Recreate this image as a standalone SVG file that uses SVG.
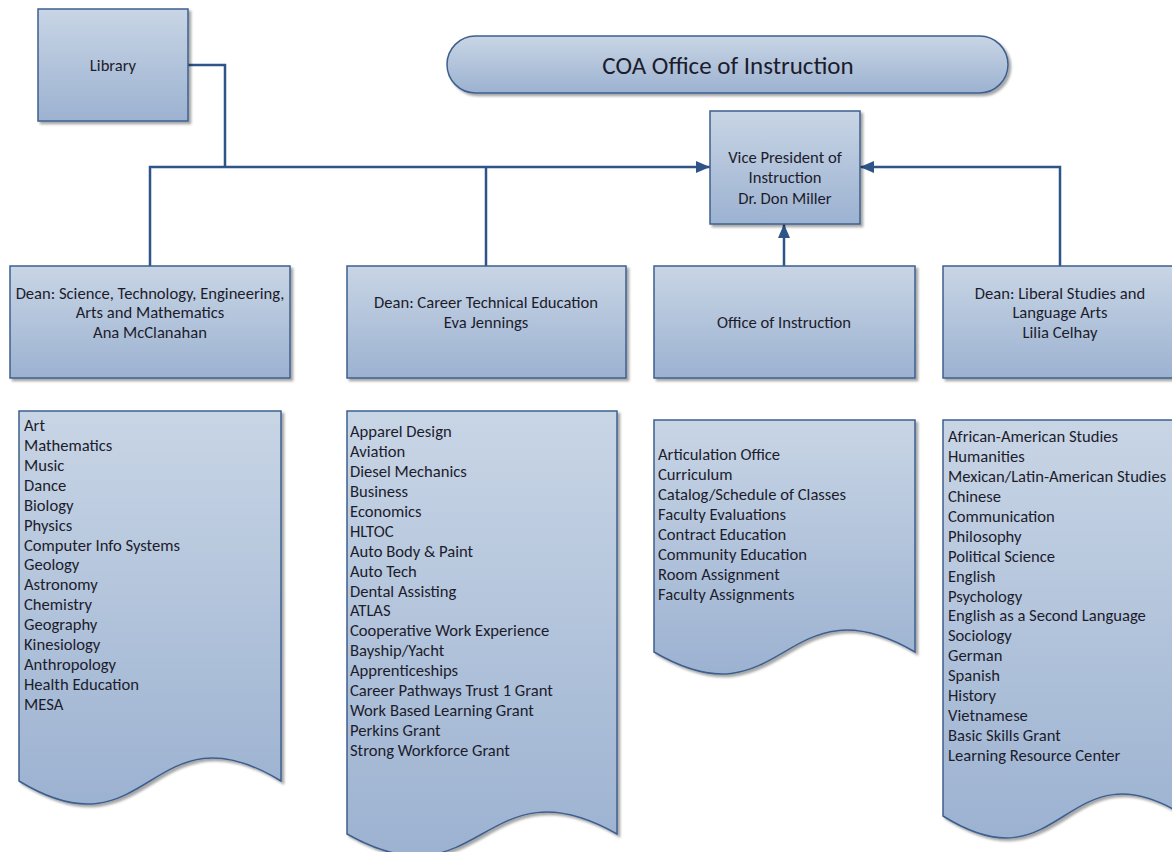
<svg xmlns="http://www.w3.org/2000/svg" width="1172" height="852" viewBox="0 0 1172 852">
<style>
.box{fill:url(#g);stroke:#3d5f8e;stroke-width:1.5;filter:url(#sh)}
.t{font-family:Carlito,Lato,"Liberation Sans",sans-serif;font-size:16.6px;fill:#1c1c2c}
.c{text-anchor:middle}
.title{font-family:Carlito,Lato,"Liberation Sans",sans-serif;font-size:25px;fill:#1c1c2c;text-anchor:middle}
.con{fill:none;stroke:#2f5487;stroke-width:2.5}
</style>
<defs>
<linearGradient id="g" x1="0" y1="0" x2="0" y2="1">
<stop offset="0" stop-color="#c8d5e5"/>
<stop offset="1" stop-color="#9cb2d1"/>
</linearGradient>
<filter id="sh" x="-5%" y="-5%" width="115%" height="115%">
<feDropShadow dx="2.5" dy="2.5" stdDeviation="1.2" flood-color="#000" flood-opacity="0.35"/>
</filter>
<marker id="ah" viewBox="0 0 14 12" refX="14" refY="6" markerWidth="14" markerHeight="12" markerUnits="userSpaceOnUse" orient="auto">
<path d="M0,0 L14,6 L0,12 Z" fill="#2f5487"/>
</marker>
</defs>

<g id="connectors">
<path class="con" d="M188,65 H225 V167"/>
<path class="con" d="M150,266 V167 H710" marker-end="url(#ah)"/>
<path class="con" d="M486,266 V167"/>
<path class="con" d="M1060,266 V167 H860" marker-end="url(#ah)"/>
<path class="con" d="M784,266 V224" marker-end="url(#ah)"/>
</g>

<g id="title">
<rect class="box" x="447" y="36" width="561" height="57" rx="28.5"/>
<text class="title" x="728" y="74">COA Office of Instruction</text>
</g>

<g id="library">
<rect class="box" x="38" y="9" width="150" height="112"/>
<text class="t c" x="113" y="71">Library</text>
</g>

<g id="vp">
<rect class="box" x="710" y="111" width="150" height="113"/>
<text class="t c" x="785" y="163">Vice President of</text>
<text class="t c" x="785" y="183">Instruction</text>
<text class="t c" x="785" y="204">Dr. Don Miller</text>
</g>

<g id="dean-stem">
<rect class="box" x="10" y="266" width="280" height="112"/>
<text class="t c" x="150" y="299">Dean: Science, Technology, Engineering,</text>
<text class="t c" x="150" y="318">Arts and Mathematics</text>
<text class="t c" x="150" y="338">Ana McClanahan</text>
</g>

<g id="dean-cte">
<rect class="box" x="347" y="266" width="279" height="112"/>
<text class="t c" x="486" y="308">Dean: Career Technical Education</text>
<text class="t c" x="486" y="328">Eva Jennings</text>
</g>

<g id="office">
<rect class="box" x="654" y="266" width="261" height="112"/>
<text class="t c" x="784" y="328">Office of Instruction</text>
</g>

<g id="dean-liberal">
<rect class="box" x="943" y="266" width="234" height="112"/>
<text class="t c" x="1060" y="299">Dean: Liberal Studies and</text>
<text class="t c" x="1060" y="318">Language Arts</text>
<text class="t c" x="1060" y="338">Lilia Celhay</text>
</g>

<g id="list-stem">
<path class="box" d="M19,411 H281 V781 C150,701 150,861 19,781 Z"/>
<text class="t" x="24" y="431">Art</text>
<text class="t" x="24" y="451">Mathematics</text>
<text class="t" x="24" y="471">Music</text>
<text class="t" x="24" y="491">Dance</text>
<text class="t" x="24" y="511">Biology</text>
<text class="t" x="24" y="531">Physics</text>
<text class="t" x="24" y="551">Computer Info Systems</text>
<text class="t" x="24" y="570">Geology</text>
<text class="t" x="24" y="590">Astronomy</text>
<text class="t" x="24" y="610">Chemistry</text>
<text class="t" x="24" y="630">Geography</text>
<text class="t" x="24" y="650">Kinesiology</text>
<text class="t" x="24" y="670">Anthropology</text>
<text class="t" x="24" y="690">Health Education</text>
<text class="t" x="24" y="710">MESA</text>
</g>

<g id="list-cte">
<path class="box" d="M347,411 H617 V834 C482,758 482,910 347,834 Z"/>
<text class="t" x="350" y="437">Apparel Design</text>
<text class="t" x="350" y="457">Aviation</text>
<text class="t" x="350" y="477">Diesel Mechanics</text>
<text class="t" x="350" y="497">Business</text>
<text class="t" x="350" y="517">Economics</text>
<text class="t" x="350" y="537">HLTOC</text>
<text class="t" x="350" y="557">Auto Body &amp; Paint</text>
<text class="t" x="350" y="577">Auto Tech</text>
<text class="t" x="350" y="597">Dental Assisting</text>
<text class="t" x="350" y="616">ATLAS</text>
<text class="t" x="350" y="636">Cooperative Work Experience</text>
<text class="t" x="350" y="656">Bayship/Yacht</text>
<text class="t" x="350" y="676">Apprenticeships</text>
<text class="t" x="350" y="696">Career Pathways Trust 1 Grant</text>
<text class="t" x="350" y="716">Work Based Learning Grant</text>
<text class="t" x="350" y="736">Perkins Grant</text>
<text class="t" x="350" y="756">Strong Workforce Grant</text>
</g>

<g id="list-office">
<path class="box" d="M654,420 H915 V652 C784,576 784,728 654,652 Z"/>
<text class="t" x="658" y="460">Articulation Office</text>
<text class="t" x="658" y="480">Curriculum</text>
<text class="t" x="658" y="500">Catalog/Schedule of Classes</text>
<text class="t" x="658" y="520">Faculty Evaluations</text>
<text class="t" x="658" y="540">Contract Education</text>
<text class="t" x="658" y="560">Community Education</text>
<text class="t" x="658" y="580">Room Assignment</text>
<text class="t" x="658" y="600">Faculty Assignments</text>
</g>

<g id="list-liberal">
<path class="box" d="M943,420 H1185 V816 C1064,740 1064,892 943,816 Z"/>
<text class="t" x="948" y="442">African-American Studies</text>
<text class="t" x="948" y="462">Humanities</text>
<text class="t" x="948" y="482">Mexican/Latin-American Studies</text>
<text class="t" x="948" y="502">Chinese</text>
<text class="t" x="948" y="522">Communication</text>
<text class="t" x="948" y="542">Philosophy</text>
<text class="t" x="948" y="562">Political Science</text>
<text class="t" x="948" y="582">English</text>
<text class="t" x="948" y="602">Psychology</text>
<text class="t" x="948" y="621">English as a Second Language</text>
<text class="t" x="948" y="641">Sociology</text>
<text class="t" x="948" y="661">German</text>
<text class="t" x="948" y="681">Spanish</text>
<text class="t" x="948" y="701">History</text>
<text class="t" x="948" y="721">Vietnamese</text>
<text class="t" x="948" y="741">Basic Skills Grant</text>
<text class="t" x="948" y="761">Learning Resource Center</text>
</g>
</svg>
